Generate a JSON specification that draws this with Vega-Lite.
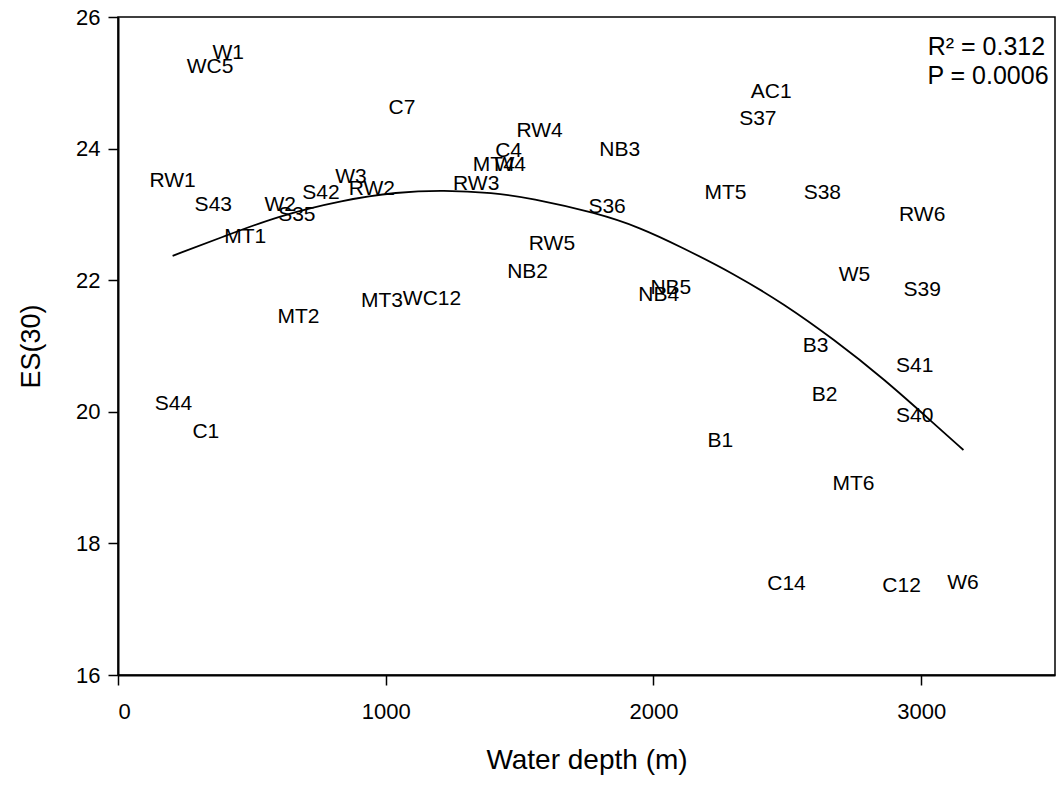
{
  "$schema": "https://vega.github.io/schema/vega-lite/v6.json",
  "width": 937,
  "height": 658,
  "autosize": {"type": "none"},
  "padding": {"left": 118, "top": 17, "right": 1, "bottom": 115},
  "background": "white",
  "config": {
    "view": {"stroke": "black", "strokeWidth": 1.5},
    "font": "Liberation Sans",
    "axis": {
      "grid": false,
      "domainColor": "black",
      "domainWidth": 2,
      "tickColor": "black",
      "tickWidth": 1.5,
      "tickSize": 10,
      "labelColor": "black",
      "titleColor": "black",
      "labelFont": "Liberation Sans",
      "titleFont": "Liberation Sans",
      "titleFontWeight": "normal",
      "labelFontSize": 22,
      "titleFontSize": 27
    }
  },
  "datasets": {
    "points": [
      {"site": "W1", "depth": 412, "es": 25.45},
      {"site": "WC5", "depth": 344, "es": 25.24},
      {"site": "C7", "depth": 1061, "es": 24.61},
      {"site": "RW1", "depth": 204, "es": 23.51},
      {"site": "S43", "depth": 356, "es": 23.15},
      {"site": "W2", "depth": 606, "es": 23.15},
      {"site": "S35", "depth": 668, "es": 22.99},
      {"site": "MT1", "depth": 475, "es": 22.66},
      {"site": "S42", "depth": 758, "es": 23.33},
      {"site": "W3", "depth": 870, "es": 23.57},
      {"site": "RW2", "depth": 948, "es": 23.38},
      {"site": "RW4", "depth": 1575, "es": 24.26},
      {"site": "C4", "depth": 1459, "es": 23.97},
      {"site": "MT4", "depth": 1404, "es": 23.75},
      {"site": "W4", "depth": 1465, "es": 23.75},
      {"site": "RW3", "depth": 1338, "es": 23.46},
      {"site": "NB3", "depth": 1874, "es": 23.98},
      {"site": "S36", "depth": 1827, "es": 23.12},
      {"site": "RW5", "depth": 1621, "es": 22.55},
      {"site": "NB2", "depth": 1530, "es": 22.13},
      {"site": "MT2", "depth": 674, "es": 21.44},
      {"site": "MT3", "depth": 986, "es": 21.69},
      {"site": "WC12", "depth": 1173, "es": 21.72},
      {"site": "S44", "depth": 207, "es": 20.12},
      {"site": "C1", "depth": 328, "es": 19.70},
      {"site": "AC1", "depth": 2440, "es": 24.86},
      {"site": "S37", "depth": 2390, "es": 24.45},
      {"site": "MT5", "depth": 2269, "es": 23.33},
      {"site": "S38", "depth": 2631, "es": 23.33},
      {"site": "RW6", "depth": 3004, "es": 22.99},
      {"site": "W5", "depth": 2751, "es": 22.08},
      {"site": "S39", "depth": 3004, "es": 21.85},
      {"site": "NB5", "depth": 2065, "es": 21.88},
      {"site": "NB4", "depth": 2020, "es": 21.77},
      {"site": "B3", "depth": 2606, "es": 21.00},
      {"site": "S41", "depth": 2976, "es": 20.69},
      {"site": "B2", "depth": 2639, "es": 20.26},
      {"site": "S40", "depth": 2976, "es": 19.94},
      {"site": "B1", "depth": 2250, "es": 19.56},
      {"site": "MT6", "depth": 2747, "es": 18.91},
      {"site": "C14", "depth": 2497, "es": 17.38},
      {"site": "C12", "depth": 2927, "es": 17.35},
      {"site": "W6", "depth": 3156, "es": 17.40}
    ],
    "curve": [
      {"depth": 204, "es": 22.37},
      {"depth": 406, "es": 22.68},
      {"depth": 593, "es": 22.97},
      {"depth": 842, "es": 23.22},
      {"depth": 1042, "es": 23.34},
      {"depth": 1216, "es": 23.37},
      {"depth": 1400, "es": 23.33},
      {"depth": 1540, "es": 23.25},
      {"depth": 1790, "es": 23.02},
      {"depth": 1950, "es": 22.80},
      {"depth": 2101, "es": 22.51},
      {"depth": 2300, "es": 22.10},
      {"depth": 2487, "es": 21.64},
      {"depth": 2674, "es": 21.10},
      {"depth": 2861, "es": 20.50},
      {"depth": 3048, "es": 19.82},
      {"depth": 3158, "es": 19.42}
    ]
  },
  "layer": [
    {
      "data": {"name": "curve"},
      "mark": {"type": "line", "color": "black", "strokeWidth": 1.8, "interpolate": "basis"},
      "encoding": {
        "x": {"field": "depth", "type": "quantitative", "scale": {"domain": [0, 3500], "nice": false},
          "axis": {"values": [0, 1000, 2000, 3000], "format": "d", "title": "Water depth (m)", "titleFontSize": 28, "labelPadding": 16, "titlePadding": 24}},
        "y": {"field": "es", "type": "quantitative", "scale": {"domain": [16, 26], "nice": false, "zero": false},
          "axis": {"values": [16, 18, 20, 22, 24, 26], "format": "d", "title": "ES(30)", "labelPadding": 8, "titlePadding": 30}}
      }
    },
    {
      "data": {"name": "points"},
      "mark": {"type": "text", "fontSize": 21, "color": "black", "align": "center", "baseline": "middle"},
      "encoding": {
        "x": {"field": "depth", "type": "quantitative"},
        "y": {"field": "es", "type": "quantitative"},
        "text": {"field": "site"}
      }
    },
    {
      "data": {"values": [{"label": "R² = 0.312"}]},
      "mark": {"type": "text", "fontSize": 25, "color": "black", "align": "right", "baseline": "middle"},
      "encoding": {
        "x": {"datum": 3463, "type": "quantitative"},
        "y": {"datum": 25.55, "type": "quantitative"},
        "text": {"field": "label"}
      }
    },
    {
      "data": {"values": [{"label": "P = 0.0006"}]},
      "mark": {"type": "text", "fontSize": 25, "color": "black", "align": "right", "baseline": "middle"},
      "encoding": {
        "x": {"datum": 3476, "type": "quantitative"},
        "y": {"datum": 25.11, "type": "quantitative"},
        "text": {"field": "label"}
      }
    }
  ]
}
